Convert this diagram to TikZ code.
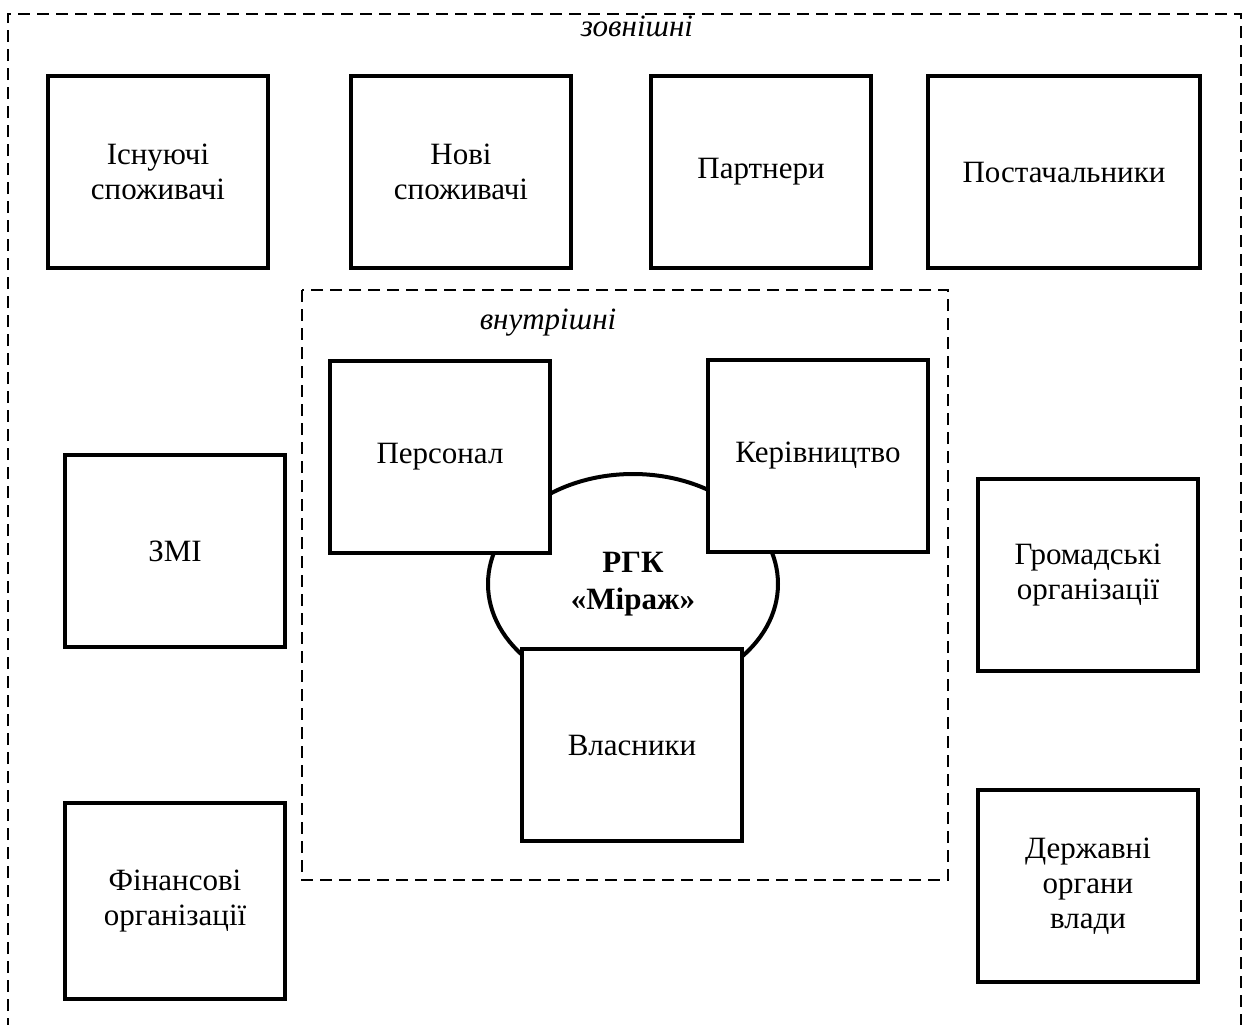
\documentclass[tikz,border=0pt]{standalone}
\usepackage{fontspec}
\setmainfont{Liberation Serif}
\usepackage{tikz}
\usetikzlibrary{shapes.geometric}

\begin{document}
\begin{tikzpicture} [
    x=0.5pt, y=-0.5pt,
    every node/.style = {font=\fontsize{15.5}{17.5}\selectfont, align=center},
    group/.style = {dashed, line width=0.8pt, dash pattern=on 6pt off 3.5pt},
    grouplabel/.style = {font=\fontsize{15.5}{17.5}\selectfont\itshape},
    party/.style = {draw, line width=2pt, fill=white, inner sep=0pt,
                    minimum width=110pt, minimum height=96pt},
    firm/.style = {draw, ellipse, line width=2pt, fill=white, inner sep=0pt,
                   minimum width=145pt, minimum height=110pt,
                   font=\fontsize{15.5}{18.5}\selectfont\bfseries}
]
    \useasboundingbox (0,0) rectangle (1249,1024);

    % external and internal groups
    \draw[group] (8,1030) |- (1241,14) -- (1241,1030);
    \node[grouplabel] (outerlabel) at (637,26) {зовнішні};
    \draw[group] (302,290) rectangle (948,880);
    \node[grouplabel] (innerlabel) at (548,323) {внутрішні};

    % the company
    \node[firm] (mirage) at (633,584) {РГК\\«Міраж»};

    % internal stakeholders
    \node[party] (staff) at (440,457) {Персонал};
    \node[party] (board) at (818,456) {Керівництво};
    \node[party] (owners) at (632,745) {Власники};

    % external stakeholders
    \node[party] (oldclients) at (158,172) {Існуючі\\споживачі};
    \node[party] (newclients) at (461,172) {Нові\\споживачі};
    \node[party] (partners) at (761,172) {Партнери};
    \node[party, minimum width=136pt] (suppliers) at (1064,172) {Постачальники};
    \node[party] (media) at (175,551) {ЗМІ};
    \node[party, minimum height=98pt] (finance) at (175,901) {Фінансові\\організації};
    \node[party] (publicorg) at (1088,575) {Громадські\\організації};
    \node[party] (authority) at (1088,886) {Державні\\органи\\влади};
\end{tikzpicture}
\end{document}
